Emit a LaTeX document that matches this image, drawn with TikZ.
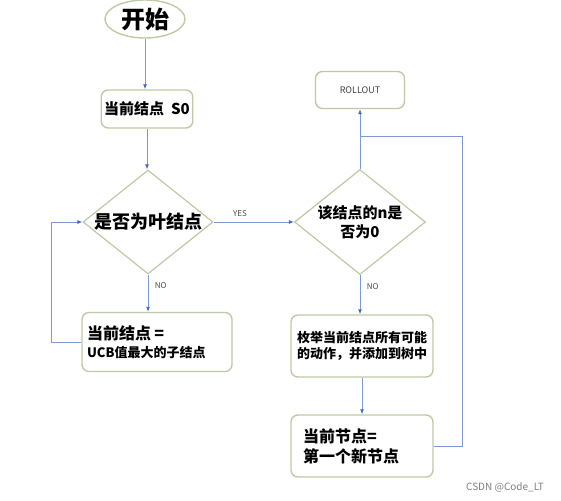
\documentclass[tikz,border=0pt]{standalone}
\usepackage{fontspec}
\setmainfont{Noto Sans CJK SC}
\usetikzlibrary{arrows.meta,shapes.geometric,positioning,calc}

\definecolor{boxgreen}{RGB}{190,202,165}
\definecolor{lineblue}{RGB}{125,155,208}
\definecolor{tipblue}{RGB}{70,105,180}

\tikzset{
  box/.style={draw=boxgreen, line width=1.4pt, rounded corners=7pt, fill=white, inner sep=3pt},
  decision/.style={diamond, aspect=1.25, draw=boxgreen, line width=1.2pt, inner sep=0pt, fill=white},
  flow/.style={draw=lineblue, line width=0.9pt, -{Latex[length=5pt,width=4pt,color=tipblue]}},
  plain/.style={draw=lineblue, line width=0.9pt},
  tag/.style={font=\fontsize{8}{9}\selectfont, text=black!70}
}

\begin{document}
\begin{tikzpicture}[x=1pt,y=-1pt]
			\useasboundingbox (0,0) rectangle (561,500);
			
			% Start
			\node[ellipse, draw=boxgreen, line width=1.4pt, minimum width=80pt, minimum height=38pt, inner sep=0pt,
			      font=\fontsize{24}{28}\selectfont\bfseries] (start) at (145,19) {开始};
			\node[box, minimum width=90pt, minimum height=38pt, font=\fontsize{15}{18}\selectfont\bfseries] (s0) at (147,109) {当前结点~~S0};
			
			% Left branch
			\node[decision, minimum width=130pt, minimum height=104pt, font=\fontsize{18}{21}\selectfont\bfseries] (leaf) at (148,222) {是否为叶结点};
			\node[box, minimum width=150pt, minimum height=59pt, text width=140pt, align=left] (ucb) at (157,342)
			      {\fontsize{16}{22}\selectfont\bfseries 当前结点~=\\[4pt]\fontsize{13}{16}\selectfont\bfseries UCB值最大的子结点};
			
			% Right branch
			\node[decision, minimum width=131pt, minimum height=105pt, align=center, font=\fontsize{15}{19}\selectfont\bfseries] (zero) at (360,222) {该结点的n是\\否为0};
			\node[box, minimum width=89pt, minimum height=37pt, font=\fontsize{9}{11}\selectfont, text=black!75] (rollout) at (360,90) {ROLLOUT};
			\node[box, minimum width=142pt, minimum height=62pt, align=center, font=\fontsize{13}{16}\selectfont\bfseries] (expand) at (362,346)
			      {枚举当前结点所有可能\\的动作，并添加到树中};
			\node[box, minimum width=142pt, minimum height=62pt, text width=118pt, align=left, font=\fontsize{16}{20}\selectfont\bfseries] (newnode) at (362,446)
			      {当前节点=\\第一个新节点};
			\coordinate (merge) at (360,136);
			
			% Connectors
			\draw[flow] (start) -- (start |- s0.north);
			\draw[flow] (s0) -- (s0 |- leaf.north);
			\draw[flow] (leaf.east) -- node[tag, pos=0.33, above=2pt] {YES} (zero.west);
			\draw[flow] (leaf.south) -- node[tag, pos=0.3, right=3pt] {NO} (leaf.south |- ucb.north);
			\draw[flow] (ucb.west) -- ++(-30,0) |- (leaf.west);
			\draw[flow] (zero.south) -- node[tag, pos=0.3, right=3pt] {NO} (zero.south |- expand.north);
			\draw[flow] (expand) -- (newnode);
			\draw[flow] (zero.north) -- (rollout.south);
			\draw[plain] (newnode.east) -- ++(29,0) |- (merge);
			
			% Watermark
			\node[font=\fontsize{10}{12}\selectfont, text=black!50] (mark) at (505,487) {CSDN @Code\_LT};
		\end{tikzpicture}
\end{document}
